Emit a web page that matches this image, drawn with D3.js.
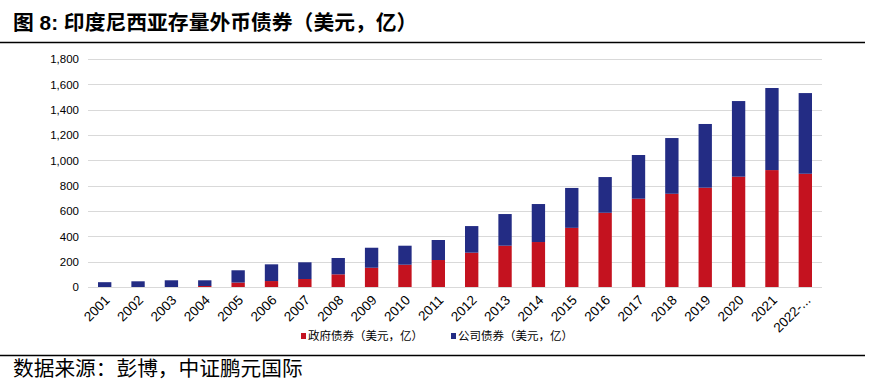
<!DOCTYPE html>
<html lang="zh">
<head>
<meta charset="utf-8">
<title>印度尼西亚存量外币债券</title>
<script src="https://cdn.jsdelivr.net/npm/d3@7/dist/d3.min.js"></script>
<style>
  body { margin: 0; background: #fff; }
  text { font-family: "Liberation Sans", Arial, "Noto Sans CJK SC", sans-serif; }
</style>
</head>
<body>
<script>
// data (USD 100m)
var years = ["2001","2002","2003","2004","2005","2006","2007","2008","2009","2010","2011",
             "2012","2013","2014","2015","2016","2017","2018","2019","2020","2021","2022-..."];
var govBonds  = [0, 0, 0, 8, 35, 47, 63, 100, 152, 176, 213, 271, 326, 355, 467, 586, 697, 736, 784, 871, 923, 894];
var corpBonds = [38, 45, 53, 45, 97, 132, 132, 129, 158, 150, 158, 210, 250, 300, 315, 282, 345, 440, 503, 597, 648, 637];
var yTicks = [0, 200, 400, 600, 800, 1000, 1200, 1400, 1600, 1800];
var seriesNames = ["政府债券（美元，亿）", "公司债券（美元，亿）"];
var colors = ["#c4121f", "#232c84"];

var w = 869, h = 381;
var margin = { top: 59, right: 47, bottom: 94, left: 88 };

var svg = d3.select("body").append("svg")
    .attr("width", w)
    .attr("height", h);

var table = years.map(function(y, i) {
  return { year: y, gov: govBonds[i], corp: corpBonds[i] };
});
var stacked = d3.stack().keys(["gov", "corp"])(table);

var xScale = d3.scaleBand()
    .domain(years)
    .range([margin.left, w - margin.right])
    .paddingInner(0.6)
    .paddingOuter(0.3);

var yScale = d3.scaleLinear()
    .domain([0, 1800])
    .range([h - margin.bottom, margin.top]);

// title
svg.append("text")
   .attr("x", 13)
   .attr("y", 30)
   .attr("font-size", "20.8px")
   .attr("font-weight", "bold")
   .attr("fill", "#000")
   .text("图 8: 印度尼西亚存量外币债券（美元，亿）");

svg.append("line")
   .attr("x1", 0).attr("x2", 865)
   .attr("y1", 42.5).attr("y2", 42.5)
   .attr("stroke", "#000").attr("stroke-width", 1.3);

// grid
svg.append("g")
   .selectAll("line")
   .data(yTicks)
   .enter()
   .append("line")
   .attr("x1", margin.left)
   .attr("x2", w - margin.right)
   .attr("y1", function(d) { return Math.round(yScale(d)) + 0.5; })
   .attr("y2", function(d) { return Math.round(yScale(d)) + 0.5; })
   .attr("stroke", "#d9d9d9")
   .attr("stroke-width", 1);

// y labels
var yAxis = d3.axisLeft(yScale)
    .tickValues(yTicks)
    .tickFormat(d3.format(","))
    .tickSize(0)
    .tickPadding(9);

svg.append("g")
   .attr("transform", "translate(" + margin.left + ",0)")
   .call(yAxis)
   .call(function(g) { g.select(".domain").remove(); })
   .selectAll("text")
   .attr("font-size", "11.5px")
   .attr("fill", "#000");

// bars
svg.append("g")
   .selectAll("g")
   .data(stacked)
   .enter()
   .append("g")
   .attr("fill", function(d, i) { return colors[i]; })
   .selectAll("rect")
   .data(function(d) { return d; })
   .enter()
   .append("rect")
   .attr("x", function(d) { return xScale(d.data.year); })
   .attr("y", function(d) { return yScale(d[1]); })
   .attr("width", xScale.bandwidth())
   .attr("height", function(d) { return yScale(d[0]) - yScale(d[1]); });

// x labels
var xAxis = d3.axisBottom(xScale).tickSize(0).tickPadding(0);

svg.append("g")
   .attr("transform", "translate(0," + (h - margin.bottom) + ")")
   .call(xAxis)
   .call(function(g) { g.select(".domain").remove(); })
   .selectAll("text")
   .attr("font-size", "13.5px")
   .attr("fill", "#000")
   .attr("text-anchor", "end")
   .attr("dy", null)
   .attr("y", 0)
   .attr("transform", "translate(6,14) rotate(-45)");

// legend
var legend = svg.append("g")
    .selectAll("g")
    .data(seriesNames)
    .enter()
    .append("g")
    .attr("transform", function(d, i) { return "translate(" + (301 + i * 150) + ",336)"; });

legend.append("rect")
   .attr("x", 0).attr("y", -3)
   .attr("width", 5).attr("height", 6)
   .attr("fill", function(d, i) { return colors[i]; });

legend.append("text")
   .attr("x", 7)
   .attr("y", 4)
   .attr("font-size", "11.5px")
   .attr("fill", "#000")
   .text(function(d) { return d; });

svg.append("line")
   .attr("x1", 0).attr("x2", 865)
   .attr("y1", 355.5).attr("y2", 355.5)
   .attr("stroke", "#000").attr("stroke-width", 1.3);

// source
svg.append("text")
   .attr("x", 13)
   .attr("y", 376)
   .attr("font-size", "20.7px")
   .attr("fill", "#000")
   .text("数据来源：彭博，中证鹏元国际");
</script>
</body>
</html>
